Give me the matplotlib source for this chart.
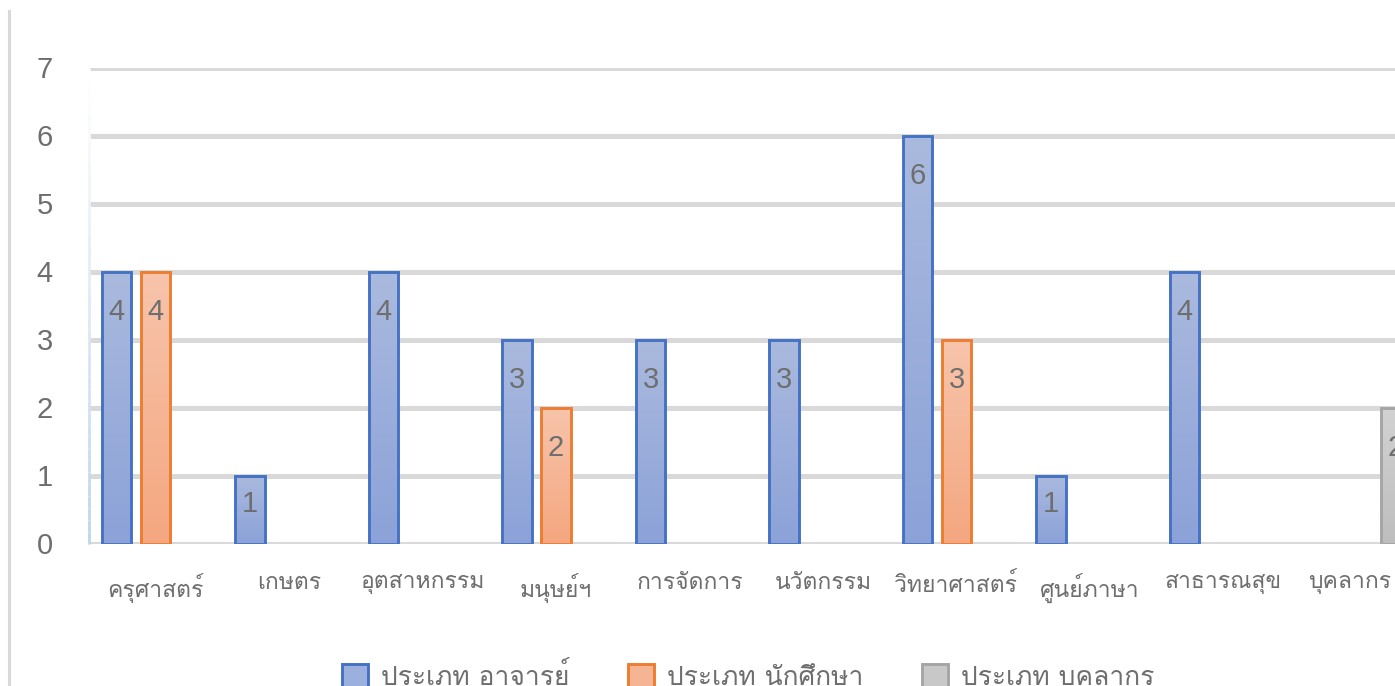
import numpy as np
import matplotlib
matplotlib.use("Agg")
import matplotlib.pyplot as plt
from matplotlib import font_manager as fm
from matplotlib.ft2font import FT2Font
from matplotlib.patches import Patch
from matplotlib.lines import Line2D
from matplotlib.collections import LineCollection
from matplotlib.transforms import ScaledTranslation

categories = ["ครุศาสตร์", "เกษตร", "อุตสาหกรรม", "มนุษย์ฯ", "การจัดการ",
              "นวัตกรรม", "วิทยาศาสตร์", "ศูนย์ภาษา", "สาธารณสุข", "บุคลากร"]
series_names = ["ประเภท อาจารย์", "ประเภท นักศึกษา", "ประเภท บุคลากร"]
teachers = [4, 1, 4, 3, 3, 3, 6, 1, 4, 0]
students = [4, 0, 0, 2, 0, 0, 3, 0, 0, 0]
staff = [0, 0, 0, 0, 0, 0, 0, 0, 0, 2]
y_ticks = [0, 1, 2, 3, 4, 5, 6, 7]

# find a font with Thai glyphs (prefer a looped Tahoma-like face)
thai_fonts = []
for f in fm.fontManager.ttflist:
    try:
        ft = FT2Font(f.fname)
        if ft.get_char_index(0x0E04) and ft.get_char_index(0x0E32):
            if f.name not in thai_fonts:
                thai_fonts.append(f.name)
    except Exception:
        pass
pref = ["Tahoma", "Loma", "Noto Sans Thai", "Garuda", "Sarabun"]
thai = None
for p in pref:
    if p in thai_fonts:
        thai = p
        break
if thai is None and thai_fonts:
    thai = thai_fonts[0]
thai_family = ([thai] if thai else []) + ["DejaVu Sans"]

W, H = 1395, 686
fig = plt.figure(figsize=(W / 100, H / 100), dpi=100)
ax_left, ax_bottom_px, ax_top_px = 88.75, 543.5, 67.5
ax = fig.add_axes([ax_left / W, (H - ax_bottom_px) / H, 1335 / W, (ax_bottom_px - ax_top_px) / H])

x = np.arange(len(categories))
bw = 0.22
offs = [-0.292, 0.0, 0.292]
edges = ["#4472c4", "#ed7d31", "#a5a5a5"]
tops = [(0.667, 0.729, 0.871), (0.969, 0.769, 0.671), (0.824, 0.824, 0.824)]
bots = [(0.549, 0.635, 0.847), (0.957, 0.655, 0.502), (0.745, 0.745, 0.745)]
mids = ["#9cb0de", "#f5b594", "#c8c8c8"]
data = [teachers, students, staff]

px_per_unit = (ax_bottom_px - ax_top_px) / 7.0
for s, vals in enumerate(data):
    bars = ax.bar(x + offs[s], vals, width=bw, facecolor="none", edgecolor=edges[s],
                  linewidth=2.1, zorder=3)
    grad = np.linspace(0, 1, 64)[:, None, None]
    img = np.array(tops[s])[None, None, :] * (1 - grad) + np.array(bots[s])[None, None, :] * grad
    for b, v in zip(bars, vals):
        if v <= 0:
            b.set_visible(False)
            continue
        x0 = b.get_x()
        im = ax.imshow(img, extent=[x0, x0 + b.get_width(), 0, v], aspect="auto",
                       origin="upper", zorder=2, interpolation="bilinear")
        im.set_clip_path(b)
        ly = max(v * px_per_unit - 40, 40) / px_per_unit
        ax.text(x0 + b.get_width() / 2, ly, str(v), ha="center", va="center",
                fontsize=21, color="#6e6e6e", family="Liberation Sans", zorder=4)

ax.set_xlim(-0.5, len(categories) - 0.5)
ax.set_ylim(0, 7)
ax.set_yticks(y_ticks)
ax.set_yticklabels([str(t) for t in y_ticks], fontsize=21, color="#6e6e6e", family="Liberation Sans")
ax.set_xticks(x)
ax.set_xticklabels(categories, fontsize=16.5, color="#6e6e6e", family=thai_family)
ax.tick_params(axis="both", length=0)
ax.tick_params(axis="y", pad=26)
ax.tick_params(axis="x", pad=21)
for sp in ax.spines.values():
    sp.set_visible(False)
ax.yaxis.grid(True, color="#d9d9d9", linewidth=3.6, zorder=0)
ax.set_axisbelow(True)

# keep the last category label inside the picture, as in the reference
last = ax.get_xticklabels()[-1]
last.set_transform(last.get_transform() + ScaledTranslation(-7 / 100, 0, fig.dpi_scale_trans))

# faint plot-area left edge (light blue gradient)
ny = 40
yy = np.linspace(7, 0, ny + 1)
segs = [[(-0.5, yy[i]), (-0.5, yy[i + 1])] for i in range(ny)]
cols = [(1 - t * 0.25, 1 - t * 0.17, 1 - t * 0.07) for t in np.linspace(0, 1, ny)]
lc = LineCollection(segs, colors=cols, linewidths=2.0, zorder=1, clip_on=False,
                    transform=ax.transData)
ax.add_collection(lc)

fig.add_artist(Line2D([8.5 / W, 8.5 / W], [0, (H - 11) / H], color="#d9d9d9", linewidth=2.2,
                      transform=fig.transFigure))

handles = [Patch(facecolor=mids[i], edgecolor=edges[i], linewidth=2.1) for i in range(3)]
fig.legend(handles, series_names, loc="center", bbox_to_anchor=(748 / W, (H - 677) / H),
           ncol=3, frameon=False, prop={"family": thai_family, "size": 19},
           labelcolor="#6e6e6e", handlelength=1.0, handleheight=1.0, columnspacing=2.2,
           handletextpad=0.5)

fig.savefig("out.png", dpi=100)
